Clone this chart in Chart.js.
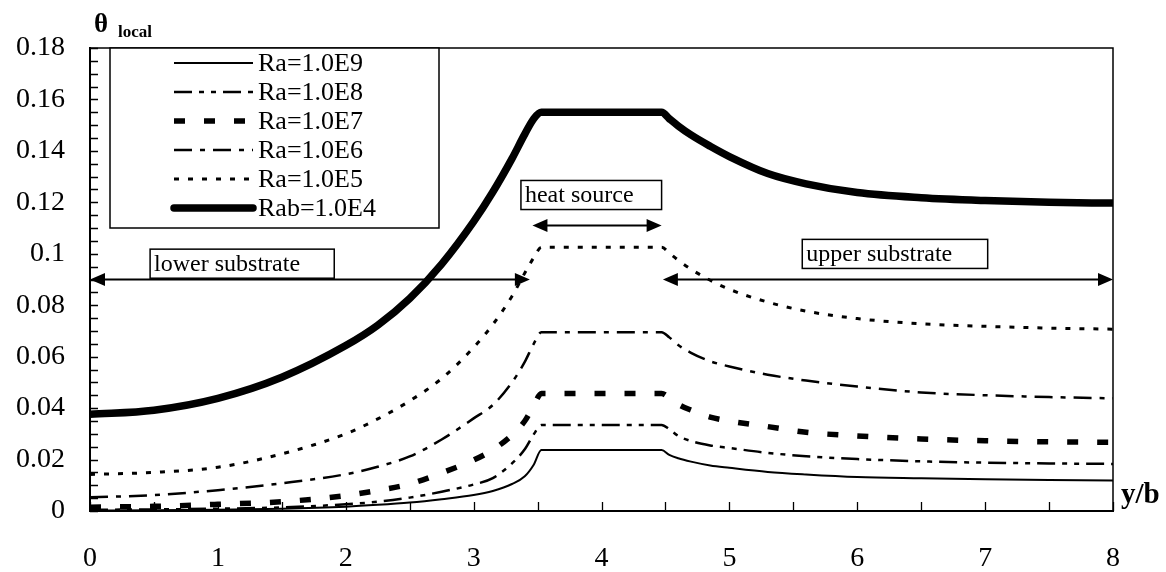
<!DOCTYPE html>
<html>
<head>
<meta charset="utf-8">
<script src="https://cdn.jsdelivr.net/npm/chart.js@4.4.1/dist/chart.umd.min.js"></script>
<style>
  html, body { margin: 0; padding: 0; background: #fff; }
  #wrap { width: 1166px; height: 572px; }
</style>
</head>
<body>
<div id="wrap"><canvas id="c" width="1166" height="572"></canvas></div>
<script>
// Position along the wall, y/b
const yb = [0, 0.5, 1, 1.5, 2, 2.25, 2.5, 2.75, 3, 3.15, 3.3, 3.4, 3.47, 3.53, 4.47, 4.53, 4.6, 4.7, 4.85, 5, 5.3, 5.6, 6, 6.5, 7, 7.5, 8];

// Local dimensionless temperature for each Rayleigh number
const ra1e9 = [0.0002, 0.0003, 0.0005, 0.0009, 0.0017, 0.0024, 0.0033, 0.0046, 0.0062, 0.0078, 0.0105, 0.0135, 0.0180, 0.0237, 0.0237, 0.0218, 0.0205, 0.0192, 0.0177, 0.0168, 0.0152, 0.0142, 0.0132, 0.0127, 0.0123, 0.0121, 0.0119];
const ra1e8 = [0.0005, 0.0006, 0.0009, 0.0014, 0.0026, 0.0036, 0.0052, 0.0075, 0.0103, 0.0128, 0.0185, 0.0240, 0.0298, 0.0334, 0.0334, 0.0318, 0.0292, 0.0272, 0.0255, 0.0245, 0.0226, 0.0213, 0.0202, 0.0193, 0.0188, 0.0185, 0.0183];
const ra1e7 = [0.0015, 0.0018, 0.0026, 0.0036, 0.0060, 0.0080, 0.0105, 0.0148, 0.0198, 0.0238, 0.0295, 0.0350, 0.0410, 0.0457, 0.0457, 0.0440, 0.0415, 0.0392, 0.0365, 0.0350, 0.0328, 0.0306, 0.0292, 0.0280, 0.0273, 0.0269, 0.0267];
const ra1e6 = [0.0053, 0.0062, 0.0081, 0.0108, 0.0143, 0.0172, 0.0212, 0.0278, 0.0360, 0.0412, 0.0500, 0.0580, 0.0650, 0.0695, 0.0695, 0.0675, 0.0645, 0.0615, 0.0582, 0.0562, 0.0530, 0.0507, 0.0484, 0.0461, 0.0450, 0.0443, 0.0438];
const ra1e5 = [0.0142, 0.0150, 0.0170, 0.0222, 0.0300, 0.0358, 0.0428, 0.0515, 0.0636, 0.0725, 0.0835, 0.0925, 0.0985, 0.1025, 0.1025, 0.1003, 0.0975, 0.0940, 0.0897, 0.0862, 0.0812, 0.0777, 0.0748, 0.0728, 0.0718, 0.0711, 0.0707];
const rab1e4 = [0.0376, 0.0392, 0.0438, 0.0520, 0.0643, 0.0722, 0.0826, 0.0960, 0.1125, 0.1240, 0.1370, 0.1465, 0.1525, 0.1550, 0.1550, 0.1525, 0.1497, 0.1462, 0.1418, 0.1378, 0.1312, 0.1272, 0.1238, 0.1218, 0.1207, 0.1200, 0.1197];

const seriesNames = ['Ra=1.0E9', 'Ra=1.0E8', 'Ra=1.0E7', 'Ra=1.0E6', 'Ra=1.0E5', 'Rab=1.0E4'];
const xTickLabels = ['0', '1', '2', '3', '4', '5', '6', '7', '8'];
const yTickLabels = ['0', '0.02', '0.04', '0.06', '0.08', '0.1', '0.12', '0.14', '0.16', '0.18'];

const SERIF = '"Liberation Serif", "Times New Roman", serif';

function pts(vals) { return yb.map((x, i) => ({ x: x, y: vals[i] })); }

const styles = [
  { borderWidth: 2,   borderDash: [] },
  { borderWidth: 2.5, borderDash: [18, 7, 5, 7, 5, 7] },
  { borderWidth: 5.5, borderDash: [11, 19] },
  { borderWidth: 2.5, borderDash: [18, 8, 5, 8] },
  { borderWidth: 3,   borderDash: [5, 9] },
  { borderWidth: 7.5, borderDash: [] }
];

const seriesValues = [ra1e9, ra1e8, ra1e7, ra1e6, ra1e5, rab1e4];

const datasets = seriesValues.map((vals, i) => ({
  label: seriesNames[i],
  data: pts(vals),
  borderColor: '#000',
  backgroundColor: '#000',
  borderWidth: styles[i].borderWidth,
  borderDash: styles[i].borderDash,
  borderCapStyle: i === 5 ? 'round' : 'butt',
  borderJoinStyle: 'round',
  pointRadius: 0,
  fill: false,
  cubicInterpolationMode: 'monotone'
}));

// Region markers: double arrows with boxed captions, in data units
const regions = [
  { text: 'lower substrate', x1: 0,    x2: 3.44, y: 0.09,  box: [0.47, 1.91, 0.1018, 0.0905] },
  { text: 'heat source',     x1: 3.46, x2: 4.47, y: 0.111, box: [3.37, 4.47, 0.1285, 0.1172] },
  { text: 'upper substrate', x1: 4.48, x2: 8,    y: 0.09,  box: [5.57, 7.02, 0.1056, 0.0943] }
];

function arrowHead(ctx, x, y, dir) {
  ctx.beginPath();
  ctx.moveTo(x, y);
  ctx.lineTo(x - dir * 15, y - 6.5);
  ctx.lineTo(x - dir * 15, y + 6.5);
  ctx.closePath();
  ctx.fill();
}

const decor = {
  id: 'decor',
  afterDraw(chart) {
    const ctx = chart.ctx;
    const xs = chart.scales.x, ys = chart.scales.y;
    const a = chart.chartArea;
    ctx.save();
    ctx.strokeStyle = '#000';
    ctx.fillStyle = '#000';
    ctx.setLineDash([]);

    // top and right frame
    ctx.lineWidth = 1.5;
    ctx.beginPath();
    ctx.moveTo(a.left, a.top);
    ctx.lineTo(a.right, a.top);
    ctx.lineTo(a.right, a.bottom);
    ctx.stroke();

    // inward tick marks
    ctx.lineWidth = 1.3;
    ctx.beginPath();
    for (let k = 0; k <= 36; k++) {
      const py = Math.round(ys.getPixelForValue(k * 0.005)) + 0.5;
      ctx.moveTo(a.left, py);
      ctx.lineTo(a.left + 8, py);
    }
    for (let k = 0; k <= 16; k++) {
      const px = Math.round(xs.getPixelForValue(k * 0.5)) + 0.5;
      ctx.moveTo(px, a.bottom);
      ctx.lineTo(px, a.bottom - 9);
    }
    ctx.stroke();

    // region arrows and captions
    ctx.font = '24px ' + SERIF;
    ctx.textBaseline = 'middle';
    ctx.textAlign = 'left';
    regions.forEach(r => {
      const x1 = xs.getPixelForValue(r.x1), x2 = xs.getPixelForValue(r.x2);
      const py = ys.getPixelForValue(r.y);
      ctx.lineWidth = 2;
      ctx.beginPath();
      ctx.moveTo(x1 + 10, py);
      ctx.lineTo(x2 - 10, py);
      ctx.stroke();
      arrowHead(ctx, x1, py, -1);
      arrowHead(ctx, x2, py, 1);
      const bx1 = xs.getPixelForValue(r.box[0]), bx2 = xs.getPixelForValue(r.box[1]);
      const by1 = ys.getPixelForValue(r.box[2]), by2 = ys.getPixelForValue(r.box[3]);
      ctx.fillStyle = '#fff';
      ctx.fillRect(bx1, by1, bx2 - bx1, by2 - by1);
      ctx.fillStyle = '#000';
      ctx.lineWidth = 1.5;
      ctx.strokeRect(bx1, by1, bx2 - bx1, by2 - by1);
      ctx.fillText(r.text, bx1 + 4, (by1 + by2) / 2 + 1);
    });

    // legend
    const lx1 = 110, ly1 = a.top, lx2 = 439, ly2 = 228;
    ctx.fillStyle = '#fff';
    ctx.fillRect(lx1, ly1, lx2 - lx1, ly2 - ly1);
    ctx.lineWidth = 1.5;
    ctx.strokeStyle = '#000';
    ctx.strokeRect(lx1, ly1, lx2 - lx1, ly2 - ly1);
    ctx.font = '26px ' + SERIF;
    ctx.fillStyle = '#000';
    chart.data.datasets.forEach((ds, i) => {
      const ry = 63 + i * 29;
      ctx.save();
      ctx.lineWidth = ds.borderWidth;
      ctx.setLineDash(ds.borderDash);
      ctx.lineCap = ds.borderCapStyle;
      ctx.beginPath();
      ctx.moveTo(174, ry);
      ctx.lineTo(253, ry);
      ctx.stroke();
      ctx.restore();
      ctx.fillText(ds.label, 258, ry + 1);
    });

    // axis titles
    ctx.textBaseline = 'alphabetic';
    ctx.font = 'bold 27px ' + SERIF;
    ctx.fillText('θ', 94, 32);
    ctx.font = 'bold 17px ' + SERIF;
    ctx.fillText('local', 118, 37);
    ctx.font = 'bold 29px ' + SERIF;
    ctx.fillText('y/b', 1121, 503);
    ctx.restore();
  }
};

new Chart(document.getElementById('c'), {
  type: 'line',
  data: { datasets: datasets },
  plugins: [decor],
  options: {
    responsive: false,
    animation: false,
    devicePixelRatio: 1,
    layout: { padding: { left: 0, right: 53, top: 48, bottom: 0 } },
    plugins: { legend: { display: false }, tooltip: { enabled: false } },
    scales: {
      x: {
        type: 'linear', min: 0, max: 8,
        grid: { display: false, drawTicks: false },
        border: { display: true, color: '#000', width: 2 },
        ticks: {
          stepSize: 1, padding: 31, color: '#000', autoSkip: false, maxRotation: 0,
          font: { family: SERIF, size: 28 },
          callback: (v, i) => xTickLabels[i]
        },
        afterFit: s => { s.height = 61; }
      },
      y: {
        type: 'linear', min: 0, max: 0.18,
        grid: { display: false, drawTicks: false },
        border: { display: true, color: '#000', width: 2 },
        ticks: {
          stepSize: 0.02, padding: 25, color: '#000', autoSkip: false,
          font: { family: SERIF, size: 28 },
          callback: (v, i) => yTickLabels[i]
        },
        afterFit: s => { s.width = 90; }
      }
    }
  }
});
</script>
</body>
</html>
